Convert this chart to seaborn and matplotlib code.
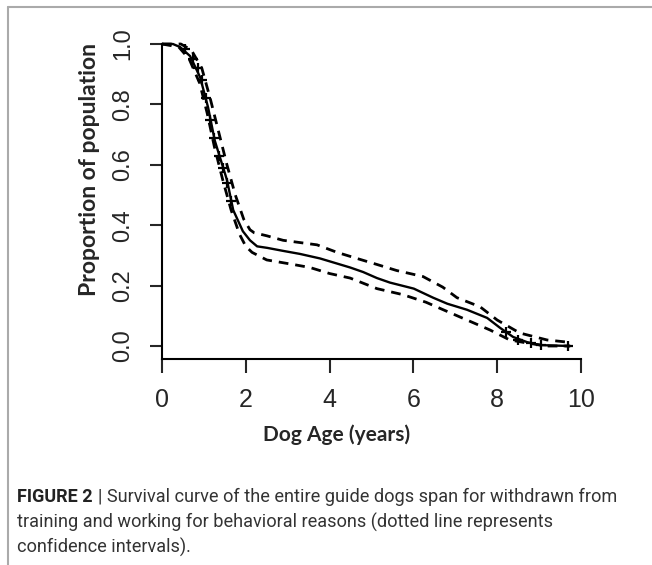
import numpy as np
import pandas as pd
import seaborn as sns
import matplotlib.pyplot as plt
from matplotlib.lines import Line2D

# survival estimate
age = [0, 0.26, 0.43, 0.67, 0.91, 1.10, 1.26, 1.55, 1.70, 1.93, 2.10, 2.27, 2.51,
       2.89, 3.29, 3.77, 4.01, 4.49, 4.80, 5.13, 5.44, 6.01, 6.47, 6.81, 7.28,
       7.76, 8.07, 8.38, 8.71, 9.02, 9.74]
surv = [1.0, 1.0, 0.99, 0.96, 0.89, 0.79, 0.68, 0.55, 0.45, 0.38, 0.35, 0.33, 0.325,
        0.315, 0.305, 0.29, 0.28, 0.26, 0.245, 0.225, 0.21, 0.19, 0.16, 0.14, 0.12,
        0.093, 0.06, 0.03, 0.013, 0.003, 0.0]

# confidence limits
age_up = [0, 0.45, 0.7, 0.95, 1.15, 1.35, 1.55, 1.75, 1.95, 2.1, 2.2, 2.5, 2.89, 3.7,
          4.18, 4.65, 5.13, 5.6, 6.23, 6.7, 7.04, 7.59, 8.0, 8.54, 9.19, 9.67]
surv_up = [1.0, 1.0, 0.98, 0.92, 0.82, 0.71, 0.60, 0.50, 0.42, 0.385, 0.375, 0.365, 0.35,
           0.335, 0.31, 0.29, 0.27, 0.25, 0.23, 0.195, 0.16, 0.13, 0.086, 0.043, 0.02, 0.013]
age_lo = [0, 0.4, 0.65, 0.9, 1.08, 1.25, 1.45, 1.65, 1.85, 2.0, 2.15, 2.5, 3.13, 3.53,
          4.0, 4.49, 5.13, 5.75, 6.3, 6.63, 7.28, 7.83, 8.3, 8.71, 9.19, 9.74]
surv_lo = [1.0, 0.99, 0.95, 0.87, 0.77, 0.66, 0.55, 0.45, 0.37, 0.33, 0.31, 0.285, 0.27,
           0.26, 0.24, 0.225, 0.19, 0.17, 0.145, 0.125, 0.086, 0.053, 0.02, 0.01, 0.0, 0.0]

# censoring marks
cens_age = [0.55, 0.75, 0.85, 0.95, 1.05, 1.15, 1.25, 1.35, 1.45, 1.55, 1.65,
            8.2, 8.5, 8.8, 9.05, 9.7]
cens_surv = [0.985, 0.95, 0.92, 0.88, 0.82, 0.75, 0.69, 0.63, 0.59, 0.54, 0.48,
             0.045, 0.02, 0.01, 0.004, 0.0]

xticks = [0, 2, 4, 6, 8, 10]
yticks = [0.0, 0.2, 0.4, 0.6, 0.8, 1.0]

sns.set_style("white")
plt.rcParams['font.family'] = ['Liberation Sans', 'DejaVu Sans']

W, H = 652, 565
fig = plt.figure(figsize=(W / 100, H / 100), dpi=100)
ax = fig.add_axes([162 / W, (H - 359) / H, (581 - 162) / W, (359 - 44) / H])

df = pd.DataFrame({"age": age, "surv": surv})
up = pd.DataFrame({"age": age_up, "surv": surv_up})
lo = pd.DataFrame({"age": age_lo, "surv": surv_lo})

sns.lineplot(data=df, x="age", y="surv", ax=ax, color="black", lw=1.7,
             estimator=None, sort=False, clip_on=False)
for d in (up, lo):
    sns.lineplot(data=d, x="age", y="surv", ax=ax, color="black", lw=2.0,
                 estimator=None, sort=False, clip_on=False)
ax.lines[1].set_dashes((3.5, 2.5))
ax.lines[2].set_dashes((3.5, 2.5))
sns.scatterplot(x=cens_age, y=cens_surv, ax=ax, marker="+", color="black",
                s=50, linewidth=1.6, clip_on=False)

ax.set_xlim(0, 10)
ax.set_ylim(-0.043, 1.0)
ax.set_xticks(xticks)
ax.set_yticks(yticks)
ax.set_xticklabels([str(v) for v in xticks], fontsize=18)
ax.set_yticklabels([f"{v:.1f}" for v in yticks], fontsize=17, rotation=90, va="center")
ax.tick_params(axis="x", length=10, width=1.5, pad=11, direction="out", bottom=True)
ax.tick_params(axis="y", length=9, width=1.5, pad=11, direction="out", left=True)
for s in ("top", "right"):
    ax.spines[s].set_visible(False)
for s in ("left", "bottom"):
    ax.spines[s].set_linewidth(1.5)
    ax.spines[s].set_color("black")
ax.set_xlabel("")
ax.set_ylabel("")

fig.text(337 / W, 1 - 435 / H, "Dog Age (years)", ha="center", va="center",
         fontsize=15, fontweight="bold", family="Lato")
fig.text(89 / W, 1 - 169 / H, "Proportion of population", ha="center", va="center",
         rotation=90, fontsize=16.5, fontweight="bold", family="Lato")

# caption
cap = "#333333"
fig.text(17 / W, 1 - 497 / H, "FIGURE 2", fontsize=13, fontweight="bold",
         color="#222222", va="center", family="Roboto")
fig.text(98 / W, 1 - 497 / H,
         "| Survival curve of the entire guide dogs span for withdrawn from",
         fontsize=13.1, color=cap, va="center", family="Roboto")
fig.text(17 / W, 1 - 522 / H,
         "training and working for behavioral reasons (dotted line represents",
         fontsize=13.1, color=cap, va="center", family="Roboto")
fig.text(17 / W, 1 - 547 / H, "confidence intervals).",
         fontsize=13.1, color=cap, va="center", family="Roboto")

# page frame
fig.add_artist(Line2D([8 / W, 1], [1 - 7 / H, 1 - 7 / H], color="#aaaaaa", lw=1.5))
fig.add_artist(Line2D([8 / W, 8 / W], [0, 1 - 7 / H], color="#aaaaaa", lw=1.5))

fig.savefig("out.png", dpi=100)
